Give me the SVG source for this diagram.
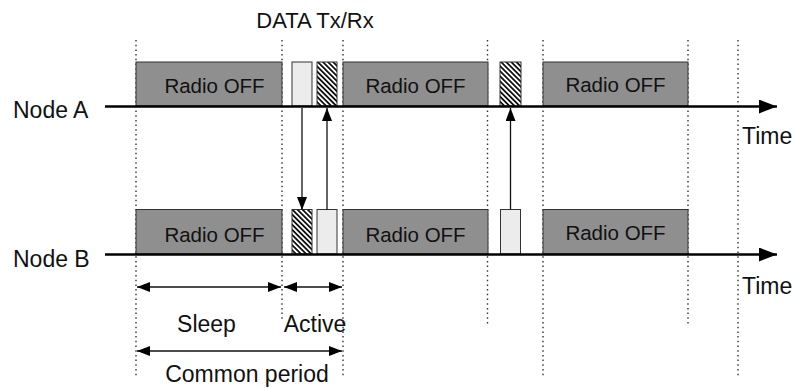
<svg xmlns="http://www.w3.org/2000/svg" width="794" height="390" viewBox="0 0 794 390">
  <style>
    text { font-family: "Liberation Sans", Arial, Helvetica, sans-serif; fill: #111; }
    .lbl { font-size: 23px; }
    .ttl { font-size: 22px; }
    .roff { font-size: 20.5px; text-anchor: middle; }
    .off { fill: #8f8f8f; stroke: #333; stroke-width: 1; }
    .slot { fill: #ececec; stroke: #333; stroke-width: 1; }
    .hatch { fill: url(#hatch); stroke: #333; stroke-width: 1; }
    .dot { stroke: #333; stroke-width: 1.4; stroke-dasharray: 1.5 3.2; fill: none; }
    .axis { stroke: #000; stroke-width: 2.5; fill: none; }
    .msg { stroke: #111; stroke-width: 1.3; fill: none; }
    .dim { stroke: #111; stroke-width: 1.3; fill: none; }
  </style>
  <defs>
    <pattern id="hatch" width="3.6" height="3.6" patternUnits="userSpaceOnUse" patternTransform="rotate(-45)">
      <rect width="3.6" height="3.6" fill="#fff"/>
      <rect width="1.8" height="3.6" fill="#111"/>
    </pattern>
    <marker id="axh" markerWidth="18" markerHeight="14" refX="18" refY="7" orient="auto" markerUnits="userSpaceOnUse">
      <path d="M0,0 L18,7 L0,14 Z" fill="#000"/>
    </marker>
    <marker id="ah" markerWidth="13" markerHeight="10" refX="13" refY="5" orient="auto-start-reverse" markerUnits="userSpaceOnUse">
      <path d="M0,0 L13,5 L0,10 Z" fill="#000"/>
    </marker>
  </defs>

  <text class="ttl" x="315" y="28" text-anchor="middle">DATA Tx/Rx</text>

  <g id="grid">
    <line class="dot" x1="136" y1="40" x2="136" y2="378"/>
    <line class="dot" x1="282" y1="40" x2="282" y2="322"/>
    <line class="dot" x1="343" y1="40" x2="343" y2="378"/>
    <line class="dot" x1="487.5" y1="40" x2="487.5" y2="325"/>
    <line class="dot" x1="543" y1="40" x2="543" y2="378"/>
    <line class="dot" x1="688" y1="40" x2="688" y2="325"/>
    <line class="dot" x1="738" y1="40" x2="738" y2="378"/>
  </g>

  <g id="nodeA">
    <text class="lbl" x="13" y="118">Node A</text>
    <rect class="off" x="136" y="62" width="146" height="44"/>
    <text class="roff" x="214.5" y="93">Radio OFF</text>
    <rect class="slot" x="292" y="62" width="20" height="44"/>
    <rect class="hatch" x="317" y="62" width="20" height="44"/>
    <rect class="off" x="343" y="62" width="145" height="44"/>
    <text class="roff" x="415.5" y="93">Radio OFF</text>
    <rect class="hatch" x="500" y="62" width="21" height="44"/>
    <rect class="off" x="543" y="62" width="145" height="44"/>
    <text class="roff" x="615.5" y="91.5">Radio OFF</text>
    <line class="axis" x1="105" y1="106.5" x2="777" y2="106.5" marker-end="url(#axh)"/>
    <text class="lbl" x="742" y="144">Time</text>
  </g>

  <g id="nodeB">
    <text class="lbl" x="13" y="267">Node B</text>
    <rect class="off" x="136" y="209.5" width="146" height="44.5"/>
    <text class="roff" x="214.5" y="241.5">Radio OFF</text>
    <rect class="hatch" x="292" y="209.5" width="20" height="44.5"/>
    <rect class="slot" x="317" y="209.5" width="20" height="44.5"/>
    <rect class="off" x="343" y="209.5" width="145" height="44.5"/>
    <text class="roff" x="415.5" y="241.5">Radio OFF</text>
    <rect class="slot" x="500.5" y="209.5" width="20" height="44.5"/>
    <rect class="off" x="543" y="209.5" width="145" height="44.5"/>
    <text class="roff" x="615.5" y="239.5">Radio OFF</text>
    <line class="axis" x1="105" y1="254.5" x2="777" y2="254.5" marker-end="url(#axh)"/>
    <text class="lbl" x="742" y="294">Time</text>
  </g>

  <g id="connectors">
    <line class="msg" x1="302" y1="108" x2="302" y2="210" marker-end="url(#ah)"/>
    <line class="msg" x1="327" y1="209.5" x2="327" y2="108" marker-end="url(#ah)"/>
    <line class="msg" x1="510.5" y1="209.5" x2="510.5" y2="108" marker-end="url(#ah)"/>
  </g>

  <g id="dimensions">
    <line class="dim" x1="137" y1="287" x2="281" y2="287" marker-start="url(#ah)" marker-end="url(#ah)"/>
    <text class="lbl" x="206.5" y="332" text-anchor="middle">Sleep</text>
    <line class="dim" x1="284" y1="287" x2="342" y2="287" marker-start="url(#ah)" marker-end="url(#ah)"/>
    <text class="lbl" x="315" y="332" text-anchor="middle">Active</text>
    <line class="dim" x1="137" y1="351" x2="342" y2="351" marker-start="url(#ah)" marker-end="url(#ah)"/>
    <text class="lbl" x="247" y="382" text-anchor="middle">Common period</text>
  </g>
</svg>
